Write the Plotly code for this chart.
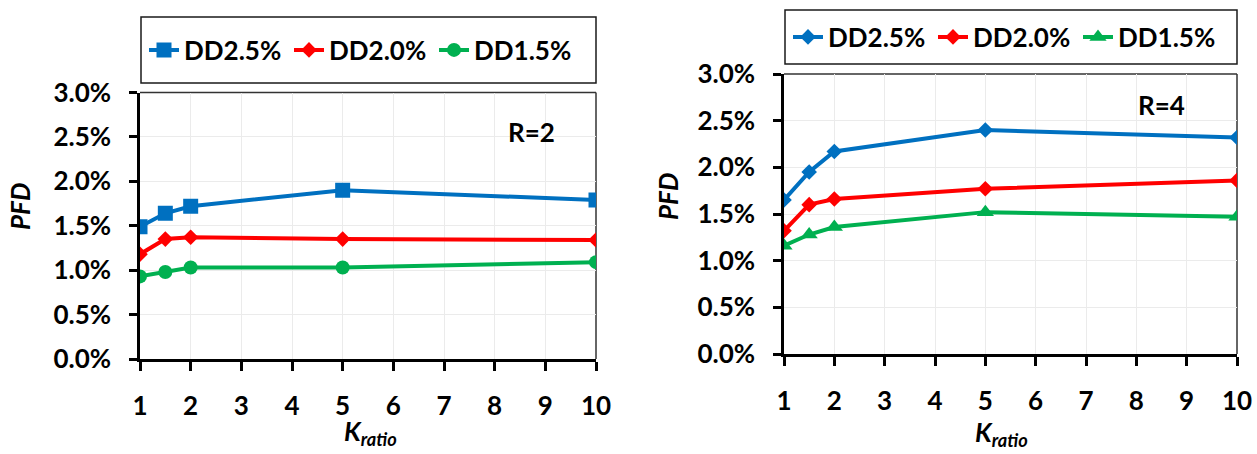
import plotly.graph_objects as go

# Stiffness ratio values on the x axis
k_ratio = [1, 1.5, 2, 5, 10]

# Peak floor drift, R = 2
r2_dd25 = [0.0149, 0.0164, 0.0172, 0.0190, 0.0179]
r2_dd20 = [0.0118, 0.0135, 0.0137, 0.0135, 0.0134]
r2_dd15 = [0.0093, 0.0098, 0.0103, 0.0103, 0.0109]

# Peak floor drift, R = 4
r4_dd25 = [0.0165, 0.0195, 0.0217, 0.0240, 0.0232]
r4_dd20 = [0.0132, 0.0160, 0.0166, 0.0177, 0.0186]
r4_dd15 = [0.0116, 0.0128, 0.0136, 0.0152, 0.0147]

series_names = ["DD2.5%", "DD2.0%", "DD1.5%"]
colors = ["#0070C0", "#FF0000", "#00B050"]
x_ticks = [1, 2, 3, 4, 5, 6, 7, 8, 9, 10]
y_ticks = [0.0, 0.005, 0.010, 0.015, 0.020, 0.025, 0.030]

W, H = 1257, 454
FONT = "Lato"
FS = 26


def fx(p):
    return p / W


def fy(p):
    return 1 - p / H


fig = go.Figure()

left_symbols = ["square", "diamond", "circle"]
left_sizes = [15, 12, 14]
for name, ys, col, sym, sz in zip(series_names, [r2_dd25, r2_dd20, r2_dd15],
                                  colors, left_symbols, left_sizes):
    fig.add_trace(go.Scatter(
        x=k_ratio, y=ys, name=name, mode="lines+markers",
        line=dict(color=col, width=4),
        marker=dict(symbol=sym, size=sz, color=col),
        xaxis="x", yaxis="y", legend="legend"))

right_symbols = ["diamond", "diamond", "triangle-up"]
right_sizes = [12, 12, 15]
for name, ys, col, sym, sz in zip(series_names, [r4_dd25, r4_dd20, r4_dd15],
                                  colors, right_symbols, right_sizes):
    fig.add_trace(go.Scatter(
        x=k_ratio, y=ys, name=name, mode="lines+markers",
        line=dict(color=col, width=4),
        marker=dict(symbol=sym, size=sz, color=col),
        xaxis="x2", yaxis="y2", legend="legend2"))

tick_font = dict(family=FONT, size=FS, color="black", weight="bold")

xaxis_common = dict(
    range=[1, 10], tickvals=x_ticks, ticks="outside", ticklen=9, tickwidth=2.5,
    tickcolor="black", showline=True, linewidth=2.5, linecolor="black",
    showgrid=True, gridcolor="#ebebeb", gridwidth=1, zeroline=False,
    tickfont=tick_font, ticklabelstandoff=13, automargin=False, fixedrange=True)
yaxis_common = dict(
    range=[0, 0.03], tickvals=y_ticks, tickformat=".1%", ticks="outside",
    ticklen=8, tickwidth=2.5, tickcolor="black", showline=True, linewidth=2.5,
    linecolor="black", showgrid=True, gridcolor="#ebebeb", gridwidth=1,
    zeroline=False, tickfont=tick_font, ticklabelstandoff=13, automargin=False,
    fixedrange=True)

# plot areas in pixels: (left, right, top, bottom)
left_box = (140, 596, 92.5, 359)
right_box = (784, 1237, 74, 354)

legend_font = dict(family=FONT, size=FS, color="black", weight="bold")

fig.update_layout(
    width=W, height=H, margin=dict(l=0, r=0, t=0, b=0, pad=0),
    paper_bgcolor="white", plot_bgcolor="white",
    xaxis=dict(xaxis_common, domain=[fx(left_box[0]), fx(left_box[1])], anchor="y"),
    yaxis=dict(yaxis_common, domain=[fy(left_box[3]), fy(left_box[2])], anchor="x"),
    xaxis2=dict(xaxis_common, domain=[fx(right_box[0]), fx(right_box[1])], anchor="y2"),
    yaxis2=dict(yaxis_common, domain=[fy(right_box[3]), fy(right_box[2])], anchor="x2"),
    legend=dict(orientation="h", x=fx(144), y=fy(50), xanchor="left", yanchor="middle",
                bgcolor="rgba(0,0,0,0)", borderwidth=0, entrywidth=100,
                font=legend_font),
    legend2=dict(orientation="h", x=fx(788), y=fy(37), xanchor="left", yanchor="middle",
                 bgcolor="rgba(0,0,0,0)", borderwidth=0, entrywidth=100,
                 font=legend_font),
    showlegend=True,
)

# legend frames and thin top/right plot borders
shapes = []
for (x0, x1, y0, y1) in [(141, 596, 17, 83), (785, 1237, 10, 64)]:
    shapes.append(dict(type="rect", xref="paper", yref="paper",
                       x0=fx(x0), x1=fx(x1), y0=fy(y1), y1=fy(y0),
                       line=dict(color="#1a1a1a", width=1.5), fillcolor="rgba(0,0,0,0)"))
for xr, yr in [("x", "y"), ("x2", "y2")]:
    shapes.append(dict(type="line", xref=f"{xr} domain", yref=f"{yr} domain",
                       x0=0, x1=1, y0=1, y1=1, layer="below",
                       line=dict(color="#333333", width=1.5)))
    shapes.append(dict(type="line", xref=f"{xr} domain", yref=f"{yr} domain",
                       x0=1, x1=1, y0=0, y1=1, layer="below",
                       line=dict(color="#333333", width=1.5)))
fig.update_layout(shapes=shapes)

ann_font = dict(family=FONT, size=FS, color="black")
annotations = [
    dict(text="<b>R=2</b>", x=fx(531), y=fy(132), yanchor="middle"),
    dict(text="<b>R=4</b>", x=fx(1161), y=fy(105), yanchor="middle"),
    dict(text="<b><i>PFD</i></b>", x=fx(20), y=fy(207), yanchor="middle", textangle=-90),
    dict(text="<b><i>PFD</i></b>", x=fx(668), y=fy(197), yanchor="middle", textangle=-90),
    dict(text="<b><i>K<sub>ratio</sub></i></b>", x=fx(370), y=fy(452), yanchor="bottom"),
    dict(text="<b><i>K<sub>ratio</sub></i></b>", x=fx(1001), y=fy(453), yanchor="bottom"),
]
for a in annotations:
    a.update(xref="paper", yref="paper", showarrow=False,
             xanchor="center", font=ann_font)
fig.update_layout(annotations=annotations)

fig.write_html("out.html")
